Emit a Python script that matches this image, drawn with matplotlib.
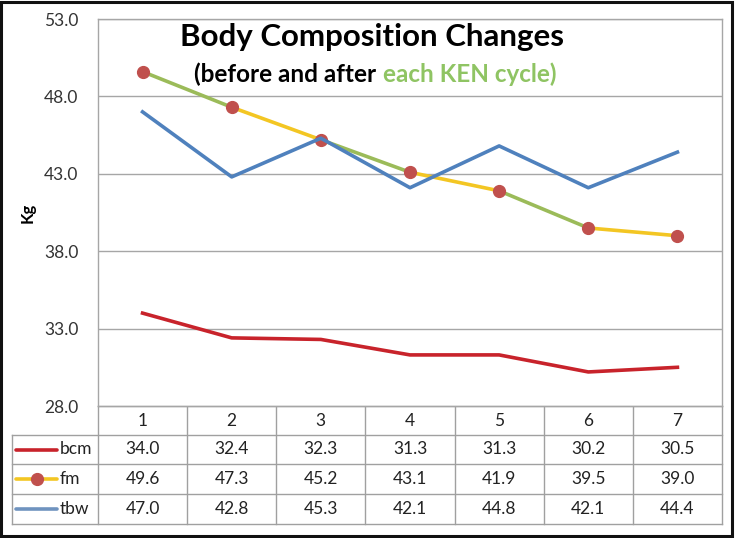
import matplotlib.pyplot as plt
from matplotlib.patches import Rectangle

plt.rcParams['font.family'] = ['Lato', 'DejaVu Sans']

# data
cycles = [1, 2, 3, 4, 5, 6, 7]
bcm = [34.0, 32.4, 32.3, 31.3, 31.3, 30.2, 30.5]
fm = [49.6, 47.3, 45.2, 43.1, 41.9, 39.5, 39.0]
tbw = [47.0, 42.8, 45.3, 42.1, 44.8, 42.1, 44.4]
series_names = ['bcm', 'fm', 'tbw']
yticks = [28.0, 33.0, 38.0, 43.0, 48.0, 53.0]

RED = '#c8232b'
BLUE = '#4f81bd'
GREEN = '#9bbb59'
YELLOW = '#f3c623'
MARK = '#c0504d'
GRID = '#a6a6a6'

W, H = 736, 538
fig = plt.figure(figsize=(W / 100, H / 100), dpi=100)

# plot area in pixels
L, R, T, B = 98, 722, 19, 406
ax = fig.add_axes([L / W, 1 - B / H, (R - L) / W, (B - T) / H])
ax.set_xlim(0.5, 7.5)
ax.set_ylim(28, 53)
ax.set_yticks(yticks)
ax.set_yticklabels(['%.1f' % v for v in yticks], fontsize=12.5, color='#333333')
ax.set_xticks([])
ax.tick_params(axis='y', length=0, pad=14)
ax.grid(axis='y', color=GRID, lw=1)
for s in ax.spines.values():
    s.set_color(GRID)
    s.set_linewidth(1)
ax.set_ylabel('Kg', fontsize=12, fontweight='bold', labelpad=6)

ax.plot(cycles, bcm, color=RED, lw=2.6, zorder=3)
# fm line alternates green (during cycle) / yellow (between cycles)
for i in range(len(cycles) - 1):
    c = GREEN if i % 2 == 0 else YELLOW
    ax.plot(cycles[i:i + 2], fm[i:i + 2], color=c, lw=2.6, zorder=3,
            solid_capstyle='butt')
ax.plot(cycles, fm, ls='none', marker='o', ms=8.5, color=MARK, zorder=4)
ax.plot(cycles, tbw, color=BLUE, lw=2.6, zorder=5)

# title
fig.text(372 / W, 1 - 37 / H, 'Body Composition Changes', fontsize=22.5,
         fontweight='bold', ha='center', va='center')
fig.text(376 / W, 1 - 74 / H, '(before and after', fontsize=17.5,
         fontweight='bold', ha='right', va='center')
fig.text(383 / W, 1 - 74 / H, 'each KEN cycle)', fontsize=17.5,
         fontweight='bold', ha='left', va='center', color='#8fc463')

# data table drawn in pixel coordinates
tab = fig.add_axes([0, 0, 1, 1], zorder=-1)
tab.set_xlim(0, W)
tab.set_ylim(H, 0)
tab.axis('off')

TL = 12
rows = [406, 435, 464, 494, 524]
colw = (R - L) / len(cycles)
lc = '#a0a0a0'
tab.plot([L, R], [rows[0], rows[0]], color=lc, lw=1)
for yy in rows[1:]:
    tab.plot([TL, R], [yy, yy], color=lc, lw=1)
tab.plot([TL, TL], [rows[1], rows[-1]], color=lc, lw=1)
for k in range(len(cycles) + 1):
    xx = L + k * colw
    tab.plot([xx, xx], [rows[0], rows[-1]], color=lc, lw=1)

for k, c in enumerate(cycles):
    xc = L + (k + 0.5) * colw
    tab.text(xc, (rows[0] + rows[1]) / 2, str(c), ha='center', va='center',
             fontsize=12.5, color='#222222')
    for r, vals in enumerate([bcm, fm, tbw]):
        tab.text(xc, (rows[r + 1] + rows[r + 2]) / 2, '%.1f' % vals[k],
                 ha='center', va='center', fontsize=12.5, color='#222222')

# legend keys in first column
for r, name in enumerate(series_names):
    yc = (rows[r + 1] + rows[r + 2]) / 2
    if name == 'bcm':
        tab.plot([16, 57], [yc, yc], color=RED, lw=2.6, solid_capstyle='round')
    elif name == 'fm':
        tab.plot([16, 57], [yc, yc], color=YELLOW, lw=2.6, solid_capstyle='round')
        tab.plot([37], [yc], marker='o', ms=8.5, color=MARK)
    else:
        tab.plot([16, 57], [yc, yc], color='#6f93bf', lw=2.6, solid_capstyle='round')
    tab.text(60, yc, name, ha='left', va='center', fontsize=12.5, color='#222222')

# outer border
fig.add_artist(Rectangle((0.002, 0.003), 0.992, 0.994, transform=fig.transFigure,
                         fill=False, edgecolor='#111111', lw=2.2))

fig.savefig('out.png', dpi=100)
